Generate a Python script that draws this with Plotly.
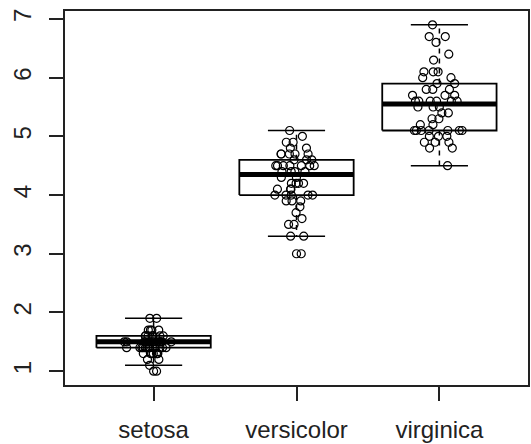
import math
import plotly.graph_objects as go

species = ["setosa", "versicolor", "virginica"]
setosa = [1.4,1.4,1.3,1.5,1.4,1.7,1.4,1.5,1.4,1.5,1.5,1.6,1.4,1.1,1.2,1.5,1.3,1.4,1.7,1.5,
          1.7,1.5,1.0,1.7,1.9,1.6,1.6,1.5,1.4,1.6,1.6,1.5,1.5,1.4,1.5,1.2,1.3,1.4,1.3,1.5,
          1.3,1.3,1.3,1.6,1.9,1.4,1.6,1.4,1.5,1.4]
versicolor = [4.7,4.5,4.9,4.0,4.6,4.5,4.7,3.3,4.6,3.9,3.5,4.2,4.0,4.7,3.6,4.4,4.5,4.1,4.5,3.9,
              4.8,4.0,4.9,4.7,4.3,4.4,4.8,5.0,4.5,3.5,3.8,3.7,3.9,5.1,4.5,4.5,4.7,4.4,4.1,4.0,
              4.4,4.6,4.0,3.3,4.2,4.2,4.2,4.3,3.0,4.1]
virginica = [6.0,5.1,5.9,5.6,5.8,6.6,4.5,6.3,5.8,6.1,5.1,5.3,5.5,5.0,5.1,5.3,5.5,6.7,6.9,5.0,
             5.7,4.9,6.7,4.9,5.7,6.0,4.8,4.9,5.6,5.8,6.1,6.4,5.6,5.1,5.6,6.1,5.6,5.5,4.8,5.4,
             5.6,5.1,5.1,5.9,5.7,5.2,5.0,5.2,5.4,5.1]
groups = [setosa, versicolor, virginica]
y_ticks = [1, 2, 3, 4, 5, 6, 7]


def fivenum(vals):
    x = sorted(vals)
    n = len(x)
    n4 = math.floor((n + 3) / 2) / 2
    d = [1, n4, (n + 1) / 2, n + 1 - n4, n]
    return [0.5 * (x[math.floor(di) - 1] + x[math.ceil(di) - 1]) for di in d]


HALF = 0.4
CAP = 0.2
box_x, box_y, med_x, med_y = [], [], [], []
wh_x, wh_y, cap_x, cap_y = [], [], [], []
out_x, out_y = [], []
for i, g in enumerate(groups, start=1):
    _, q1, med, q3, _ = fivenum(g)
    iqr = q3 - q1
    lo_f, hi_f = q1 - 1.5 * iqr, q3 + 1.5 * iqr
    inside = [v for v in g if lo_f <= v <= hi_f]
    lo, hi = min(inside), max(inside)
    outs = sorted(set(v for v in g if v < lo_f or v > hi_f))
    box_x += [i - HALF, i + HALF, i + HALF, i - HALF, i - HALF, None]
    box_y += [q1, q1, q3, q3, q1, None]
    med_x += [i - HALF, i + HALF, None]
    med_y += [med, med, None]
    wh_x += [i, i, None, i, i, None]
    wh_y += [q3, hi, None, q1, lo, None]
    cap_x += [i - CAP, i + CAP, None, i - CAP, i + CAP, None]
    cap_y += [hi, hi, None, lo, lo, None]
    out_x += [i] * len(outs)
    out_y += outs

fig = go.Figure()
fig.add_trace(go.Scatter(x=wh_x, y=wh_y, mode="lines",
                         line=dict(color="black", width=1.5, dash="5px,5px")))
fig.add_trace(go.Scatter(x=cap_x, y=cap_y, mode="lines", line=dict(color="black", width=1.5)))
fig.add_trace(go.Scatter(x=box_x, y=box_y, mode="lines", line=dict(color="black", width=1.8)))
fig.add_trace(go.Scatter(x=med_x, y=med_y, mode="lines", line=dict(color="black", width=5)))
fig.add_trace(go.Scatter(x=out_x, y=out_y, mode="markers",
                         marker=dict(symbol="circle-open", size=8, color="black",
                                     line=dict(width=1.2))))
for i, g in enumerate(groups, start=1):
    fig.add_trace(go.Box(x=[i] * len(g), y=g, boxpoints="all", jitter=1, pointpos=0,
                         width=0.44, line=dict(color="rgba(0,0,0,0)", width=0),
                         fillcolor="rgba(0,0,0,0)",
                         marker=dict(symbol="circle-open", size=8, color="black",
                                     line=dict(width=1.2))))

fig.update_layout(
    width=531, height=444, showlegend=False, boxmode="overlay",
    margin=dict(l=65, r=3, t=11, b=59),
    paper_bgcolor="white", plot_bgcolor="white",
    font=dict(family="Liberation Sans, Arial, sans-serif", size=24, color="#222"),
    xaxis=dict(range=[0.38, 3.62], tickmode="array", tickvals=[1, 2, 3], ticktext=species,
               showgrid=False, zeroline=False, showline=True, mirror=True, automargin=False,
               linecolor="#222", linewidth=2, ticks="outside", ticklen=14,
               tickwidth=1.5, tickcolor="#222", ticklabelstandoff=8),
    yaxis=dict(range=[0.764, 7.136], tickmode="array", tickvals=y_ticks,
               ticktext=[str(t) for t in y_ticks], tickangle=-90, automargin=False,
               showgrid=False, zeroline=False, showline=True, mirror=True,
               linecolor="#222", linewidth=2, ticks="outside", ticklen=14,
               tickwidth=1.5, tickcolor="#222", ticklabelstandoff=8),
)
fig.write_html("out.html")
